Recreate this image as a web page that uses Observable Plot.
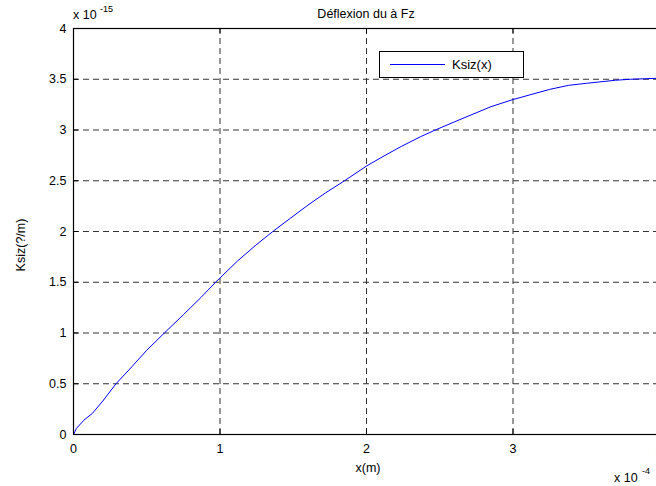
<!DOCTYPE html>
<html>
<head>
<meta charset="utf-8">
<script src="https://cdn.jsdelivr.net/npm/d3@7"></script>
<script src="https://cdn.jsdelivr.net/npm/@observablehq/plot@0.6"></script>
<style>
  html, body { margin: 0; padding: 0; background: #fff; }
  #wrap { width: 656px; height: 486px; overflow: hidden; position: relative; }
  #wrap svg { max-width: none !important; display: block; }
</style>
</head>
<body>
<div id="wrap"></div>
<script>
// x in units of 1e-4 m, Ksiz in units of 1e-15
const xValues = [0, 0.02, 0.07, 0.13, 0.2, 0.29, 0.4, 0.5, 0.62, 0.75, 0.87, 0.97, 1.12, 1.24, 1.36, 1.48, 1.6, 1.72, 1.85, 2.0, 2.12, 2.24, 2.37, 2.47, 2.6, 2.7, 2.85, 3.0, 3.15, 3.25, 3.38, 3.5, 3.6, 3.7, 3.8, 3.9, 4.0];
const ksizValues = [0, 0.06, 0.14, 0.21, 0.33, 0.5, 0.67, 0.83, 1.0, 1.18, 1.35, 1.5, 1.71, 1.86, 2.0, 2.13, 2.26, 2.38, 2.5, 2.645, 2.745, 2.84, 2.935, 3.0, 3.08, 3.14, 3.23, 3.30, 3.36, 3.40, 3.44, 3.46, 3.475, 3.49, 3.50, 3.505, 3.51];
const xTicks = [0, 1, 2, 3, 4];
const yTicks = [0, 0.5, 1, 1.5, 2, 2.5, 3, 3.5, 4];
const titleText = "Déflexion du à Fz";
const xLabel = "x(m)";
const yLabel = "Ksiz(?/m)";
const seriesName = "Ksiz(x)";

const data = xValues.map((x, i) => ({x, y: ksizValues[i]}));
const fontSize = 12.5;
const fmt = d => String(d);

const chart = Plot.plot({
  width: 680,
  height: 486,
  marginLeft: 73,
  marginRight: 21,
  marginTop: 28,
  marginBottom: 52,
  style: {fontSize: fontSize + "px", fontFamily: '"Liberation Sans", Arial, sans-serif', color: "#000", background: "#fff", maxWidth: "none"},
  x: {domain: [0, 4]},
  y: {domain: [0, 4]},
  marks: [
    Plot.gridX(xTicks.slice(1, -1), {stroke: "#333", strokeOpacity: 1, strokeDasharray: "6,4", strokeWidth: 1}),
    Plot.gridY(yTicks.slice(1, -1), {stroke: "#333", strokeOpacity: 1, strokeDasharray: "6,4", strokeWidth: 1}),
    Plot.axisX(xTicks, {tickSize: 0, tickPadding: 10, label: null, fontSize: fontSize, tickFormat: fmt}),
    Plot.axisY(yTicks, {tickSize: 0, tickPadding: 7, label: null, fontSize: fontSize, tickFormat: fmt}),
    Plot.ruleX(xTicks, {x: d => d, y1: 0, y2: 0.05, stroke: "#000"}),
    Plot.ruleX(xTicks, {x: d => d, y1: 4, y2: 3.95, stroke: "#000"}),
    Plot.ruleY(yTicks, {y: d => d, x1: 0, x2: 0.035, stroke: "#000"}),
    Plot.line(data, {x: "x", y: "y", stroke: "#0000ff", strokeWidth: 1}),
    Plot.frame({stroke: "#000", strokeWidth: 1.2})
  ]
});

document.getElementById("wrap").appendChild(chart);

const svg = d3.select(chart);
const ff = '"Liberation Sans", Arial, sans-serif';
function txt(x, y, s, opts = {}) {
  const t = svg.append("text").attr("x", x).attr("y", y).attr("font-family", ff)
    .attr("font-size", opts.size || fontSize).attr("fill", "#000")
    .attr("text-anchor", opts.anchor || "start").text(s);
  if (opts.rotate) t.attr("transform", `rotate(-90,${x},${y})`);
  return t;
}
// title
txt(366, 18, titleText, {anchor: "middle"});
// y exponent
txt(73, 19, "x 10");
txt(100, 12, "-15", {size: 9});
// x label
txt(368, 472, xLabel, {anchor: "middle"});
// x exponent
txt(614, 482, "x 10");
txt(642, 474, "-4", {size: 9});
// y label
txt(25, 245, yLabel, {anchor: "middle", rotate: true});

// legend
const lg = svg.append("g");
lg.append("rect").attr("x", 379.5).attr("y", 51.5).attr("width", 144).attr("height", 26)
  .attr("fill", "#fff").attr("stroke", "#000").attr("stroke-width", 1);
lg.append("line").attr("x1", 390).attr("x2", 445).attr("y1", 64.5).attr("y2", 64.5)
  .attr("stroke", "#0000ff").attr("stroke-width", 1);
txt(452, 69, seriesName, {size: 13});
</script>
</body>
</html>
